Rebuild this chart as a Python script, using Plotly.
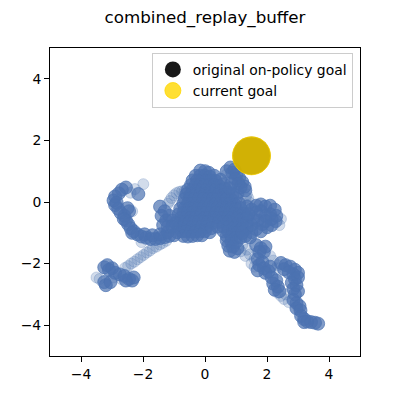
import plotly.graph_objects as go

# visited states, heavily revisited areas
core = [(-0.15, 1.02), (0.0, 1.0), (0.12, 0.95),
        (-0.3, 0.85), (-0.15, 0.85), (0.0, 0.85), (0.15, 0.82), (0.3, 0.85),
        (-0.4, 0.7), (-0.25, 0.7), (-0.1, 0.7), (0.05, 0.7), (0.2, 0.7), (0.35, 0.68), (0.5, 0.72),
        (-0.45, 0.55), (-0.3, 0.55), (-0.15, 0.55), (0.0, 0.55), (0.15, 0.55), (0.3, 0.55), (0.45, 0.52),
        (0.6, 0.58),
        (-0.55, 0.4), (-0.4, 0.4), (-0.25, 0.4), (-0.1, 0.4), (0.05, 0.4), (0.2, 0.4), (0.35, 0.4),
        (0.5, 0.38), (0.65, 0.42),
        (-0.6, 0.25), (-0.45, 0.25), (-0.3, 0.25), (-0.15, 0.25), (0.0, 0.25), (0.15, 0.25), (0.3, 0.25),
        (0.45, 0.25), (0.6, 0.22), (0.75, 0.3), (0.9, 0.28), (1.05, 0.3),
        (-0.65, 0.1), (-0.5, 0.1), (-0.35, 0.1), (-0.2, 0.1), (-0.05, 0.1), (0.1, 0.1), (0.25, 0.1),
        (0.4, 0.1), (0.55, 0.1), (0.7, 0.1), (0.85, 0.08), (1.0, 0.12),
        (-0.7, -0.05), (-0.55, -0.05), (-0.4, -0.05), (-0.25, -0.05), (-0.1, -0.05), (0.05, -0.05),
        (0.2, -0.05), (0.35, -0.05), (0.5, -0.05), (0.65, -0.05), (0.8, -0.05), (0.95, -0.08),
        (1.1, -0.05),
        (-0.8, -0.22), (-0.65, -0.2), (-0.5, -0.2), (-0.35, -0.2), (-0.2, -0.2), (-0.05, -0.2),
        (0.1, -0.2), (0.25, -0.2), (0.4, -0.2), (0.55, -0.2), (0.7, -0.2), (0.85, -0.2), (1.0, -0.22),
        (1.15, -0.2),
        (-0.85, -0.4), (-0.7, -0.35), (-0.55, -0.35), (-0.4, -0.35), (-0.25, -0.35), (-0.1, -0.35),
        (0.05, -0.35), (0.2, -0.35), (0.35, -0.35), (0.5, -0.35), (0.65, -0.35), (0.8, -0.35),
        (0.95, -0.38), (1.1, -0.4), (1.25, -0.38),
        (-0.75, -0.5), (-0.6, -0.5), (-0.45, -0.5), (-0.3, -0.5), (-0.15, -0.5), (0.0, -0.5),
        (0.15, -0.5), (0.3, -0.5), (0.45, -0.5), (0.6, -0.5), (0.75, -0.5), (0.9, -0.5), (1.05, -0.52),
        (1.2, -0.55), (1.35, -0.5),
        (-0.95, -0.68), (-0.8, -0.65), (-0.65, -0.65), (-0.5, -0.65), (-0.35, -0.65), (-0.2, -0.65),
        (-0.05, -0.65), (0.1, -0.65), (0.25, -0.68), (0.45, -0.65), (0.6, -0.65), (0.75, -0.65),
        (0.9, -0.68), (1.05, -0.7), (1.2, -0.7), (1.35, -0.68),
        (-0.85, -0.82), (-0.7, -0.8), (-0.55, -0.8), (-0.4, -0.8), (-0.25, -0.8), (-0.1, -0.8),
        (0.05, -0.8), (0.2, -0.85), (0.4, -0.8), (0.6, -0.8), (0.75, -0.82), (0.9, -0.85),
        (1.05, -0.85), (1.2, -0.85),
        (-0.9, -0.98), (-0.75, -0.95), (-0.6, -0.95), (-0.45, -0.95), (-0.3, -0.95), (-0.15, -0.95),
        (0.0, -0.95), (0.15, -0.98), (0.6, -0.95), (0.75, -0.95), (0.9, -1.0), (1.05, -1.0),
        (-0.7, -1.1), (-0.55, -1.12), (-0.4, -1.1), (-0.25, -1.08), (-0.1, -1.08), (0.7, -1.1),
        (0.85, -1.12), (1.0, -1.15)]

upper_arm = [(0.7, 1.0), (0.82, 1.12), (0.95, 1.05), (0.88, 0.95), (1.02, 0.9), (1.1, 0.78),
             (0.98, 0.75), (1.2, 0.65), (1.08, 0.6), (1.28, 0.5), (1.15, 0.48), (1.3, 0.38),
             (0.85, 0.6), (0.8, 0.45)]

right_lobe = [(1.35, -0.15), (1.5, -0.25), (1.65, -0.12), (1.8, -0.08), (1.95, -0.15), (2.1, -0.12),
              (2.25, -0.25), (2.3, -0.45), (2.28, -0.62), (2.15, -0.75), (2.0, -0.82), (1.85, -0.72),
              (1.7, -0.6), (1.55, -0.55), (1.95, -0.45), (2.1, -0.4), (1.8, -0.3), (1.65, -0.35),
              (1.5, -0.75), (1.65, -0.88), (1.8, -0.95), (1.4, -0.4), (1.95, -0.62), (2.15, -0.55),
              (1.35, -0.85), (1.5, -0.98)]

drip = [(0.7, -1.25), (0.85, -1.28), (1.0, -1.3), (0.75, -1.42), (0.9, -1.45), (0.8, -1.58),
        (0.95, -1.62), (1.05, -1.5), (1.15, -1.15), (1.3, -1.1), (1.45, -1.15), (1.2, -1.0)]

lower_right = [(1.65, -1.4), (1.8, -1.5), (1.95, -1.45), (1.9, -1.62), (1.75, -1.62),
               (1.7, -1.85), (1.85, -1.95), (1.75, -2.05), (1.9, -2.15), (1.7, -2.22), (2.05, -2.25),
               (2.1, -2.1), (1.95, -2.3),
               (2.45, -1.98), (2.6, -2.05), (2.75, -2.1), (2.9, -2.2), (3.0, -2.3), (2.85, -2.35),
               (2.7, -2.28), (2.55, -2.18), (3.0, -2.45), (2.9, -2.5),
               (2.15, -2.45), (2.3, -2.55), (2.2, -2.65), (2.35, -2.75), (2.25, -2.85), (2.4, -2.9),
               (2.8, -2.62), (2.95, -2.7), (2.85, -2.82), (3.0, -2.9), (2.9, -3.0),
               (2.85, -3.18), (2.95, -3.28), (3.05, -3.38), (2.95, -3.45), (3.08, -3.52),
               (3.1, -3.7), (3.2, -3.8), (3.3, -3.88), (3.42, -3.9), (3.55, -3.92), (3.65, -3.95),
               (3.2, -3.9)]

left_arm = [(-2.55, 0.47), (-2.68, 0.4), (-2.78, 0.28), (-2.9, 0.18), (-2.95, 0.05), (-2.9, -0.1),
            (-2.8, -0.22), (-2.72, -0.35), (-2.6, -0.45), (-2.5, -0.2), (-2.45, -0.3),
            (-2.55, -0.6), (-2.48, -0.72), (-2.4, -0.85), (-2.3, -0.95), (-2.18, -1.05),
            (-2.05, -1.12), (-1.9, -1.16), (-1.75, -1.2), (-1.6, -1.2), (-1.45, -1.17),
            (-1.3, -1.14), (-1.15, -1.1), (-1.0, -1.08), (-2.15, 0.26), (-2.85, -0.02),
            (-2.62, -0.55), (-2.35, -1.0), (-1.95, -1.05), (-1.7, -1.08), (-1.45, -1.05),
            (-1.2, -0.98),
            (-1.45, -0.15), (-1.3, -0.3), (-1.15, -0.45), (-1.4, -0.45), (-1.05, -0.6),
            (-1.25, -0.6), (-1.2, -0.8), (-1.35, -0.75), (-1.05, -0.8)]

bottom_left = [(-3.15, -2.05), (-3.0, -2.15), (-2.9, -2.3), (-2.75, -2.35), (-2.6, -2.4),
               (-2.45, -2.5), (-2.35, -2.55), (-2.3, -2.45), (-3.25, -2.6), (-3.2, -2.7),
               (-3.05, -2.6), (-3.1, -2.2), (-3.25, -2.12), (-2.55, -2.55)]

# states passed through only once or twice
sparse = [(1.35, 0.25), (1.4, 0.12), (1.42, 0.0), (1.32, 0.15), (0.7, 0.9),
          (2.4, -0.75), (2.45, -0.55), (1.4, -0.1),
          (1.2, -1.4), (1.35, -1.55), (1.45, -1.7), (1.3, -1.75), (1.6, -1.85), (1.15, -1.6),
          (2.35, -2.95), (2.45, -3.05), (2.55, -3.15), (2.7, -3.25), (2.6, -3.0),
          (2.1, -1.75), (2.2, -1.9), (2.35, -2.05), (2.3, -2.15), (1.5, -2.0), (1.6, -2.1),
          (-2.26, 0.42), (-1.99, 0.58), (-2.4, 0.3), (-2.35, -0.3), (-2.05, -1.3),
          (-1.2, -0.06), (-1.08, 0.13), (-0.92, 0.29), (-0.74, 0.35), (-0.58, 0.32), (-0.5, 0.2),
          (-1.14, 0.03), (-1.0, 0.22), (-0.83, 0.33), (-0.66, 0.35),
          (-1.25, -1.26), (-1.36, -1.33), (-1.46, -1.38), (-1.57, -1.45), (-1.68, -1.5),
          (-1.78, -1.58), (-1.88, -1.64), (-1.98, -1.72), (-2.08, -1.79), (-2.18, -1.86),
          (-2.28, -1.94), (-2.38, -2.0), (-2.48, -2.08), (-2.58, -2.14),
          (-3.5, -2.45), (-3.4, -2.5), (-2.95, -2.45), (-2.7, -2.5)]

goal = (1.5, 1.5)

dense = core + upper_arm + right_lobe + drip + lower_right + left_arm + bottom_left

BLUE_DENSE = "rgba(76,114,176,0.7)"
BLUE_FAINT = "rgba(76,114,176,0.25)"
FONT = "DejaVu Sans"
PAD = 8  # page body margin of the browser

fig = go.Figure()

fig.add_trace(go.Scatter(
    x=[p[0] for p in sparse], y=[p[1] for p in sparse], mode="markers",
    marker=dict(size=11, color=BLUE_FAINT, line=dict(width=1, color=BLUE_FAINT)),
    showlegend=False, hoverinfo="skip"))
fig.add_trace(go.Scatter(
    x=[p[0] for p in dense], y=[p[1] for p in dense], mode="markers",
    marker=dict(size=13, color=BLUE_DENSE, line=dict(width=1, color=BLUE_DENSE)),
    showlegend=False, hoverinfo="skip"))

# goals drawn last, on top of the trajectory
fig.add_trace(go.Scatter(
    x=[goal[0]], y=[goal[1]], mode="markers", name="original on-policy goal",
    marker=dict(size=38, color="rgba(0,0,0,0.9)", line=dict(width=0))))
fig.add_trace(go.Scatter(
    x=[goal[0]], y=[goal[1]], mode="markers", name="current goal",
    marker=dict(size=38, color="rgba(255,215,0,0.8)", line=dict(width=1, color="rgba(255,215,0,0.8)"))))

axis = dict(range=[-5, 5], tickvals=[-4, -2, 0, 2, 4],
            ticktext=["\u22124", "\u22122", "0", "2", "4"],
            showgrid=False, zeroline=False, showline=True, mirror=True,
            linecolor="black", linewidth=1, ticks="outside", ticklen=5,
            tickcolor="black", tickfont=dict(family=FONT, size=13.9, color="black"))

fig.update_layout(
    width=400, height=400,
    margin=dict(l=50 - PAD, r=40 + PAD, t=48 - PAD, b=44 + PAD),
    paper_bgcolor="white", plot_bgcolor="white",
    title=dict(text="combined_replay_buffer", x=0.5, xref="paper", xanchor="center",
               y=1 - (17 - PAD) / 400, yref="container", yanchor="middle",
               font=dict(family=FONT, size=16.7, color="black")),
    xaxis=axis, yaxis=axis,
    legend=dict(x=0.977, y=0.984, xanchor="right", yanchor="top",
                bgcolor="rgba(255,255,255,0.8)", bordercolor="#cccccc", borderwidth=1,
                font=dict(family=FONT, size=13.9, color="black"),
                itemsizing="trace", tracegroupgap=0),
    showlegend=True,
)

fig.write_html("out.html")
